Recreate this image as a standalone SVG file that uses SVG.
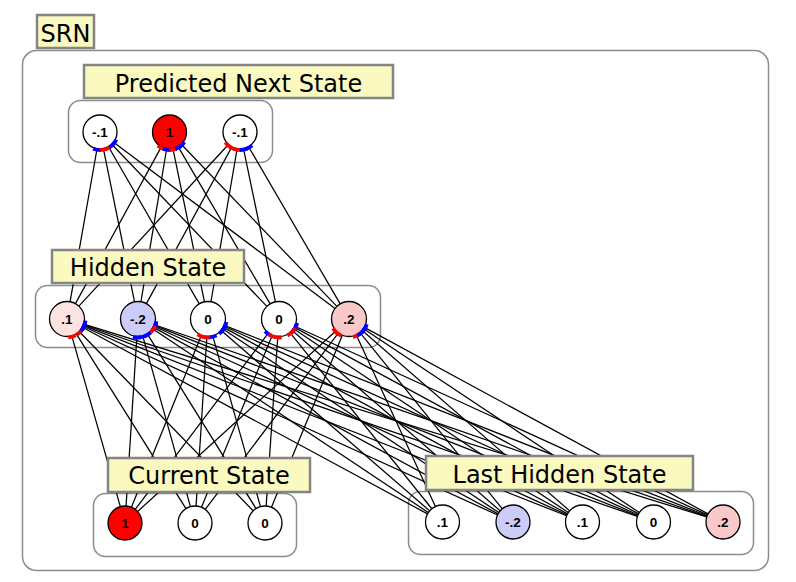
<svg xmlns="http://www.w3.org/2000/svg" xmlns:xlink="http://www.w3.org/1999/xlink" width="796" height="582" viewBox="0 0 796 582">
<style>
.grp{fill:none;stroke:#8c8c8c;stroke-width:1.5}
.lab rect{fill:#f9f9c0;stroke:#858585;stroke-width:2.5}
.lab text{font-family:"DejaVu Sans",Verdana,sans-serif;font-size:24px;fill:#000;text-anchor:middle}
.nd circle{stroke:#000;stroke-width:1.3}
.nd text{font-family:"Liberation Sans",Arial,sans-serif;font-weight:bold;font-size:13.5px;text-anchor:middle;fill:#000}
#connectors line{stroke:#000;stroke-width:1.25}
.r{stroke:#ff0000}
.b{stroke:#0000ff}
</style>
<defs>
<path id="ap" d="M17.61,-3.74A18,18 0 0 1 17.61,3.74" fill="none" stroke-width="3.8"/>
<path id="ah" d="M18.10,-3.85A18.5,18.5 0 0 1 18.10,3.85" fill="none" stroke-width="3.8"/>
</defs>
<rect width="796" height="582" fill="#fff"/>
<rect x="22.5" y="50.5" width="746" height="520" rx="14" fill="#fff" stroke="#8c8c8c" stroke-width="1.5"/>
<rect class="grp" x="68.5" y="100.5" width="204" height="62" rx="12"/>
<rect class="grp" x="35.5" y="285.5" width="345" height="62" rx="12"/>
<rect class="grp" x="93.5" y="493.5" width="203" height="63" rx="12"/>
<rect class="grp" x="408.5" y="491.5" width="345" height="63" rx="12"/>
<g id="connectors">
<line x1="97.05" y1="148.74" x2="70.04" y2="301.77"/>
<line x1="103.39" y1="148.66" x2="134.52" y2="301.85"/>
<line x1="108.50" y1="146.72" x2="199.25" y2="303.84"/>
<line x1="111.75" y1="144.28" x2="266.90" y2="306.36"/>
<line x1="113.59" y1="142.21" x2="335.01" y2="308.49"/>
<line x1="161.33" y1="146.91" x2="75.41" y2="303.65"/>
<line x1="166.68" y1="148.77" x2="140.91" y2="301.74"/>
<line x1="172.93" y1="148.65" x2="204.47" y2="301.86"/>
<line x1="178.09" y1="146.67" x2="270.16" y2="303.90"/>
<line x1="181.27" y1="144.26" x2="336.88" y2="306.38"/>
<line x1="228.46" y1="144.48" x2="78.88" y2="306.15"/>
<line x1="231.86" y1="146.92" x2="146.38" y2="303.64"/>
<line x1="237.13" y1="148.76" x2="210.95" y2="301.75"/>
<line x1="243.47" y1="148.64" x2="275.43" y2="301.87"/>
<line x1="248.56" y1="146.69" x2="340.19" y2="303.88"/>
<line x1="71.79" y1="335.83" x2="120.35" y2="506.65"/>
<line x1="76.30" y1="333.82" x2="185.96" y2="508.60"/>
<line x1="79.19" y1="331.56" x2="253.16" y2="510.80"/>
<line x1="82.39" y1="327.32" x2="427.55" y2="513.91"/>
<line x1="82.93" y1="326.25" x2="497.53" y2="514.96"/>
<line x1="83.28" y1="325.41" x2="566.68" y2="515.77"/>
<line x1="83.54" y1="324.72" x2="637.43" y2="516.44"/>
<line x1="83.72" y1="324.17" x2="706.76" y2="516.97"/>
<line x1="136.89" y1="336.47" x2="126.08" y2="506.03"/>
<line x1="142.71" y1="335.85" x2="190.43" y2="506.63"/>
<line x1="147.25" y1="333.86" x2="256.02" y2="508.57"/>
<line x1="152.56" y1="328.71" x2="428.35" y2="512.57"/>
<line x1="153.39" y1="327.33" x2="498.05" y2="513.91"/>
<line x1="153.92" y1="326.27" x2="567.04" y2="514.94"/>
<line x1="154.28" y1="325.41" x2="637.68" y2="515.77"/>
<line x1="154.53" y1="324.74" x2="706.94" y2="516.43"/>
<line x1="201.40" y1="335.21" x2="131.41" y2="507.25"/>
<line x1="206.89" y1="336.47" x2="196.08" y2="506.03"/>
<line x1="212.71" y1="335.85" x2="260.43" y2="506.63"/>
<line x1="221.23" y1="330.45" x2="429.65" y2="510.87"/>
<line x1="222.57" y1="328.70" x2="498.85" y2="512.58"/>
<line x1="223.39" y1="327.34" x2="567.55" y2="513.90"/>
<line x1="223.93" y1="326.26" x2="638.03" y2="514.95"/>
<line x1="224.28" y1="325.42" x2="707.18" y2="515.77"/>
<line x1="268.46" y1="332.97" x2="135.24" y2="509.43"/>
<line x1="272.34" y1="335.18" x2="201.47" y2="507.28"/>
<line x1="277.80" y1="336.46" x2="266.16" y2="506.04"/>
<line x1="289.98" y1="332.63" x2="431.84" y2="508.76"/>
<line x1="292.22" y1="330.47" x2="500.16" y2="510.86"/>
<line x1="293.55" y1="328.73" x2="568.37" y2="512.55"/>
<line x1="294.39" y1="327.34" x2="638.55" y2="513.90"/>
<line x1="294.91" y1="326.28" x2="707.54" y2="514.93"/>
<line x1="336.06" y1="330.78" x2="137.57" y2="511.55"/>
<line x1="338.46" y1="332.97" x2="205.24" y2="509.43"/>
<line x1="342.34" y1="335.18" x2="271.47" y2="507.28"/>
<line x1="356.32" y1="334.90" x2="435.39" y2="506.56"/>
<line x1="360.00" y1="332.61" x2="502.32" y2="508.78"/>
<line x1="362.21" y1="330.48" x2="569.67" y2="510.85"/>
<line x1="363.56" y1="328.71" x2="639.35" y2="512.57"/>
<line x1="364.38" y1="327.35" x2="708.06" y2="513.89"/>
</g>
<g id="pred-1" class="nd"><circle cx="100" cy="132" r="17" fill="#fff"/><text x="100" y="137">-.1</text></g>
<g id="pred-2" class="nd"><circle cx="169.5" cy="132" r="17" fill="#ff0000"/><text x="169.5" y="137">1</text></g>
<g id="pred-3" class="nd"><circle cx="240" cy="132" r="17" fill="#fff"/><text x="240" y="137">-.1</text></g>
<g id="hid-1" class="nd"><circle cx="67" cy="319" r="17.5" fill="#fde2e2"/><text x="67" y="324">.1</text></g>
<g id="hid-2" class="nd"><circle cx="138" cy="319" r="17.5" fill="#ccccf8"/><text x="138" y="324">-.2</text></g>
<g id="hid-3" class="nd"><circle cx="208" cy="319" r="17.5" fill="#fff"/><text x="208" y="324">0</text></g>
<g id="hid-4" class="nd"><circle cx="279" cy="319" r="17.5" fill="#fff"/><text x="279" y="324">0</text></g>
<g id="hid-5" class="nd"><circle cx="349" cy="319" r="17.5" fill="#f9c8c8"/><text x="349" y="324">.2</text></g>
<g id="cur-1" class="nd"><circle cx="125" cy="523" r="17" fill="#ff0000"/><text x="125" y="528">1</text></g>
<g id="cur-2" class="nd"><circle cx="195" cy="523" r="17" fill="#fff"/><text x="195" y="528">0</text></g>
<g id="cur-3" class="nd"><circle cx="265" cy="523" r="17" fill="#fff"/><text x="265" y="528">0</text></g>
<g id="last-1" class="nd"><circle cx="442.5" cy="522" r="17" fill="#fff"/><text x="442.5" y="527">.1</text></g>
<g id="last-2" class="nd"><circle cx="513" cy="522" r="17" fill="#ccccf8"/><text x="513" y="527">-.2</text></g>
<g id="last-3" class="nd"><circle cx="582.5" cy="522" r="17" fill="#fff"/><text x="582.5" y="527">.1</text></g>
<g id="last-4" class="nd"><circle cx="653.5" cy="522" r="17" fill="#fff"/><text x="653.5" y="527">0</text></g>
<g id="last-5" class="nd"><circle cx="723" cy="522" r="17" fill="#f9c8c8"/><text x="723" y="527">.2</text></g>
<g id="weight-marks">
<use xlink:href="#ap" class="b" transform="translate(100,132) rotate(100)"/>
<use xlink:href="#ap" class="r" transform="translate(100,132) rotate(78.5)"/>
<use xlink:href="#ap" class="r" transform="translate(100,132) rotate(60)"/>
<use xlink:href="#ap" class="b" transform="translate(100,132) rotate(46.3)"/>
<use xlink:href="#ap" class="b" transform="translate(100,132) rotate(36.9)"/>
<use xlink:href="#ap" class="r" transform="translate(169.5,132) rotate(118.7)"/>
<use xlink:href="#ap" class="b" transform="translate(169.5,132) rotate(99.6)"/>
<use xlink:href="#ap" class="r" transform="translate(169.5,132) rotate(78.4)"/>
<use xlink:href="#ap" class="b" transform="translate(169.5,132) rotate(59.6)"/>
<use xlink:href="#ap" class="b" transform="translate(169.5,132) rotate(46.2)"/>
<use xlink:href="#ap" class="r" transform="translate(240,132) rotate(132.8)"/>
<use xlink:href="#ap" class="r" transform="translate(240,132) rotate(118.6)"/>
<use xlink:href="#ap" class="r" transform="translate(240,132) rotate(99.7)"/>
<use xlink:href="#ap" class="b" transform="translate(240,132) rotate(78.2)"/>
<use xlink:href="#ap" class="b" transform="translate(240,132) rotate(59.8)"/>
<use xlink:href="#ah" class="r" transform="translate(67,319) rotate(74.1)"/>
<use xlink:href="#ah" class="r" transform="translate(67,319) rotate(45.9)"/>
<use xlink:href="#ah" class="b" transform="translate(67,319) rotate(28.4)"/>
<use xlink:href="#ah" class="b" transform="translate(67,319) rotate(24.5)"/>
<use xlink:href="#ah" class="b" transform="translate(67,319) rotate(21.5)"/>
<use xlink:href="#ah" class="b" transform="translate(67,319) rotate(19.1)"/>
<use xlink:href="#ah" class="b" transform="translate(67,319) rotate(17.2)"/>
<use xlink:href="#ah" class="b" transform="translate(138,319) rotate(93.6)"/>
<use xlink:href="#ah" class="b" transform="translate(138,319) rotate(74.4)"/>
<use xlink:href="#ah" class="b" transform="translate(138,319) rotate(58.1)"/>
<use xlink:href="#ah" class="b" transform="translate(138,319) rotate(28.4)"/>
<use xlink:href="#ah" class="b" transform="translate(138,319) rotate(24.5)"/>
<use xlink:href="#ah" class="b" transform="translate(138,319) rotate(21.5)"/>
<use xlink:href="#ah" class="b" transform="translate(138,319) rotate(19.1)"/>
<use xlink:href="#ah" class="r" transform="translate(138,319) rotate(33.7)"/>
<use xlink:href="#ah" class="r" transform="translate(208,319) rotate(112.1)"/>
<use xlink:href="#ah" class="b" transform="translate(208,319) rotate(74.4)"/>
<use xlink:href="#ah" class="b" transform="translate(208,319) rotate(40.9)"/>
<use xlink:href="#ah" class="b" transform="translate(208,319) rotate(33.6)"/>
<use xlink:href="#ah" class="b" transform="translate(208,319) rotate(28.5)"/>
<use xlink:href="#ah" class="b" transform="translate(208,319) rotate(24.5)"/>
<use xlink:href="#ah" class="b" transform="translate(208,319) rotate(21.5)"/>
<use xlink:href="#ah" class="r" transform="translate(208,319) rotate(96)"/>
<use xlink:href="#ah" class="b" transform="translate(279,319) rotate(127)"/>
<use xlink:href="#ah" class="r" transform="translate(279,319) rotate(112.4)"/>
<use xlink:href="#ah" class="r" transform="translate(279,319) rotate(93.9)"/>
<use xlink:href="#ah" class="b" transform="translate(279,319) rotate(33.8)"/>
<use xlink:href="#ah" class="b" transform="translate(279,319) rotate(28.5)"/>
<use xlink:href="#ah" class="b" transform="translate(279,319) rotate(24.6)"/>
<use xlink:href="#ah" class="r" transform="translate(279,319) rotate(51.1)"/>
<use xlink:href="#ah" class="r" transform="translate(279,319) rotate(40.9)"/>
<use xlink:href="#ah" class="r" transform="translate(349,319) rotate(137.7)"/>
<use xlink:href="#ah" class="r" transform="translate(349,319) rotate(127)"/>
<use xlink:href="#ah" class="r" transform="translate(349,319) rotate(65.3)"/>
<use xlink:href="#ah" class="b" transform="translate(349,319) rotate(51.1)"/>
<use xlink:href="#ah" class="b" transform="translate(349,319) rotate(41)"/>
<use xlink:href="#ah" class="b" transform="translate(349,319) rotate(33.7)"/>
<use xlink:href="#ah" class="b" transform="translate(349,319) rotate(28.5)"/>
</g>
<g id="label-srn" class="lab"><rect x="37" y="15" width="57" height="33"/><text x="65.5" y="41.5">SRN</text></g>
<g id="label-pred" class="lab"><rect x="84" y="65" width="309" height="33"/><text x="238.5" y="91.5">Predicted Next State</text></g>
<g id="label-hidden" class="lab"><rect x="52" y="250" width="192" height="33"/><text x="148" y="276">Hidden State</text></g>
<g id="label-current" class="lab"><rect x="108" y="458" width="202" height="34"/><text x="209" y="484">Current State</text></g>
<g id="label-last" class="lab"><rect x="426" y="456" width="267" height="34"/><text x="559.5" y="482.5">Last Hidden State</text></g>
</svg>
